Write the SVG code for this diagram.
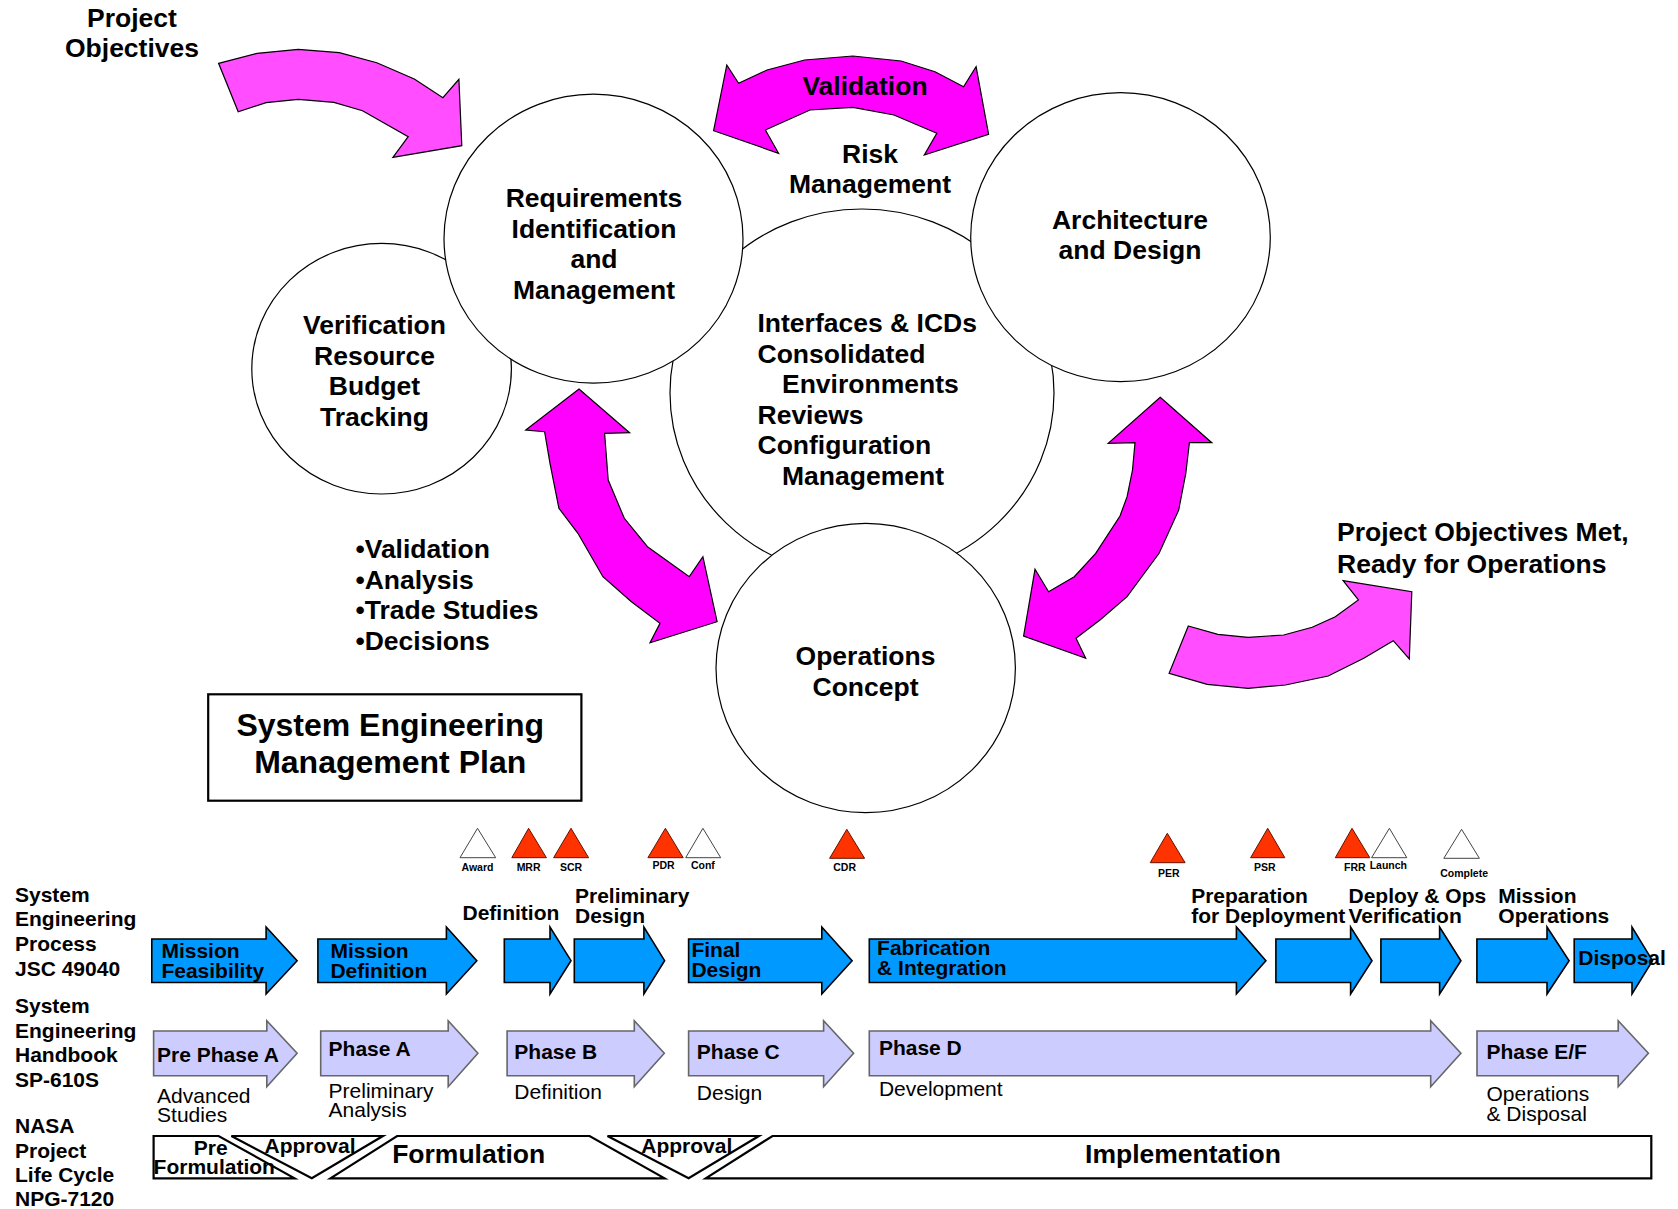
<svg xmlns="http://www.w3.org/2000/svg" width="1678" height="1209" viewBox="0 0 1678 1209">
<style>
text { font-family: "Liberation Sans", Arial, sans-serif; font-weight: bold; fill: #000; }
.big { font-size: 26.5px; }
.semp { font-size: 32px; }
.s21 { font-size: 21px; }
.reg { font-weight: normal; }
.ms { font-size: 10.5px; }
.mid { text-anchor: middle; }
.circ { fill: #fff; stroke: #000; stroke-width: 1.2; }
.mag { fill: #ff00ff; stroke: #000; stroke-width: 1.2; stroke-linejoin: miter; }
.lmag { fill: #ff4dff; stroke: #000; stroke-width: 1.2; }
.blue { fill: #0099ff; stroke: #000; stroke-width: 1.6; }
.lav { fill: #ccccff; stroke: #666; stroke-width: 1.6; }
.red { fill: #ff3300; stroke: #661100; stroke-width: 1; }
.wht { fill: #fff; stroke: #444; stroke-width: 1; }
.lc { fill: #fff; stroke: #000; stroke-width: 2.2; }
</style>
<rect width="1678" height="1209" fill="#fff"/>

<!-- circles -->
<g id="node-verification">
<ellipse class="circ" cx="381.6" cy="368.7" rx="129.8" ry="125.3"/>
<text class="big mid" x="374.5" y="334">Verification</text>
<text class="big mid" x="374.5" y="364.5">Resource</text>
<text class="big mid" x="374.5" y="395">Budget</text>
<text class="big mid" x="374.5" y="425.5">Tracking</text>
</g>
<g id="node-interfaces">
<ellipse class="circ" cx="862" cy="393" rx="192" ry="184"/>
<text class="big" x="757.5" y="332">Interfaces &amp; ICDs</text>
<text class="big" x="757.5" y="362.6">Consolidated</text>
<text class="big" x="782" y="393.2">Environments</text>
<text class="big" x="757.5" y="423.8">Reviews</text>
<text class="big" x="757.5" y="454.4">Configuration</text>
<text class="big" x="782" y="485">Management</text>
</g>
<g id="node-requirements">
<ellipse class="circ" cx="593.5" cy="238.7" rx="149.5" ry="144.5"/>
<text class="big mid" x="594" y="207">Requirements</text>
<text class="big mid" x="594" y="237.5">Identification</text>
<text class="big mid" x="594" y="268">and</text>
<text class="big mid" x="594" y="298.5">Management</text>
</g>
<g id="node-architecture">
<ellipse class="circ" cx="1120.5" cy="237.2" rx="149.8" ry="144.5"/>
<text class="big mid" x="1130" y="228.5">Architecture</text>
<text class="big mid" x="1130" y="259">and Design</text>
</g>
<g id="node-operations">
<ellipse class="circ" cx="865.7" cy="668" rx="149.7" ry="144.7"/>
<text class="big mid" x="865.5" y="665">Operations</text>
<text class="big mid" x="865.5" y="696">Concept</text>
</g>

<!-- free labels -->
<g id="node-project-objectives">
<text class="big mid" x="132" y="26.5">Project</text>
<text class="big mid" x="132" y="56.5">Objectives</text>
</g>
<g id="node-risk">
<text class="big mid" x="870" y="163.3">Risk</text>
<text class="big mid" x="870" y="193.3">Management</text>
</g>
<g id="node-bullets">
<text class="big" x="355.4" y="558.3">•Validation</text>
<text class="big" x="355.4" y="588.8">•Analysis</text>
<text class="big" x="355.4" y="619.3">•Trade Studies</text>
<text class="big" x="355.4" y="649.8">•Decisions</text>
</g>
<g id="node-objectives-met">
<text class="big" x="1337" y="540.7">Project Objectives Met,</text>
<text class="big" x="1337" y="572.7">Ready for Operations</text>
</g>
<g id="node-semp">
<rect x="208.2" y="694.3" width="373.2" height="106.4" fill="#fff" stroke="#000" stroke-width="2.2"/>
<text class="semp mid" x="390.2" y="736">System Engineering</text>
<text class="semp mid" x="390.2" y="773.3">Management Plan</text>
</g>

<!-- connectors -->
<g id="connectors">
<polygon id="arrow-project-objectives" class="lmag" points="218.6,63.3 257.1,53.3 298.2,49.3 339.3,52.7 376.8,62.7 414.3,79 442.9,97.7 458.9,79.3 461.8,145.7 392.9,157.3 408.2,136.7 362.5,110.7 333.9,102.3 298.2,99.3 266.1,102.7 238.2,111.7"/>
<polygon id="arrow-validation" class="mag" points="726.8,65 738.6,83.3 767.1,70 804.6,60 852.9,56 901.1,61 935,71.7 963.6,86.7 976.1,66.7 988.6,134.3 924.3,155 936.8,133.3 893.9,115 852.9,107.3 810,110 765.4,130 778.6,153.3 713.6,130.7"/>
<text class="big mid" x="865" y="95">Validation</text>
<polygon id="arrow-req-ops" class="mag" points="579,389 629.6,432.7 604.6,433.3 608.2,480 624.3,518.3 647.5,546.7 689.3,576.7 702.9,556.7 717.1,621.7 650,642.7 660,623.3 631.4,601.7 602.9,576.7 577.9,533.3 558.9,508.3 550,463.3 544.6,431.7 525.7,430"/>
<polygon id="arrow-arch-ops" class="mag" points="1160.2,397.3 1211.8,442.7 1189.4,442.7 1185.8,473.3 1178.7,510 1159.1,553.3 1127.1,596.7 1100,620 1076,638.3 1085.7,658.3 1023.6,636 1035,569.3 1048.6,591.7 1074.3,576.7 1095.7,553.3 1120,516 1127.1,496.7 1132.5,470 1135,442.7 1108.2,443.3"/>
<polygon id="arrow-objectives-met" class="lmag" points="1188.3,626 1217.9,634.3 1248.1,637.3 1283.7,635 1312.2,627.3 1335.3,616.7 1358.4,600 1343.1,580.7 1411.8,591.7 1409.3,659 1393.3,640.7 1363.8,658.3 1328.2,676 1285.5,685 1248.1,688.3 1207.2,684.3 1169.1,673.3"/>
</g>

<!-- timeline row labels -->
<g id="node-row-labels">
<text class="s21" x="15" y="901.7">System</text>
<text class="s21" x="15" y="926.2">Engineering</text>
<text class="s21" x="15" y="950.7">Process</text>
<text class="s21" x="15" y="975.5">JSC 49040</text>
<text class="s21" x="15" y="1012.7">System</text>
<text class="s21" x="15" y="1037.5">Engineering</text>
<text class="s21" x="15" y="1062.2">Handbook</text>
<text class="s21" x="15" y="1086.7">SP-610S</text>
<text class="s21" x="15" y="1133.3">NASA</text>
<text class="s21" x="15" y="1157.5">Project</text>
<text class="s21" x="15" y="1181.7">Life Cycle</text>
<text class="s21" x="15" y="1206">NPG-7120</text>
</g>

<!-- milestones -->
<g id="node-milestones">
<polygon class="wht" points="477.5,828.3 460,857.7 495.7,857.7"/>
<polygon class="red" points="528.6,828.3 511.8,857.7 546.4,857.7"/>
<polygon class="red" points="571,828.3 553.6,857.7 588.6,857.7"/>
<polygon class="red" points="665.4,828.3 647.9,857.7 683.2,857.7"/>
<polygon class="wht" points="702.9,828.3 685.7,857.7 720.7,857.7"/>
<polygon class="red" points="846.8,829.3 829.6,858.3 864.6,858.3"/>
<polygon class="red" points="1167.3,833.3 1150.2,862.7 1185.1,862.7"/>
<polygon class="red" points="1267.7,828.3 1250.6,857.7 1284.8,857.7"/>
<polygon class="red" points="1352,828.3 1335.3,857.7 1369.8,857.7"/>
<polygon class="wht" points="1389.4,828.3 1371.6,857.7 1406.8,857.7"/>
<polygon class="wht" points="1461.6,829.3 1443.8,858.3 1479.4,858.3"/>
<text class="ms mid" x="477.5" y="870.7">Award</text>
<text class="ms mid" x="528.6" y="870.7">MRR</text>
<text class="ms mid" x="571" y="870.7">SCR</text>
<text class="ms mid" x="663.6" y="869.3">PDR</text>
<text class="ms mid" x="702.9" y="869.3">Conf</text>
<text class="ms mid" x="844.6" y="870.7">CDR</text>
<text class="ms mid" x="1168.8" y="876.7">PER</text>
<text class="ms mid" x="1264.8" y="871">PSR</text>
<text class="ms mid" x="1354.9" y="871">FRR</text>
<text class="ms mid" x="1388.3" y="869.3">Launch</text>
<text class="ms mid" x="1464.1" y="877.3">Complete</text>
</g>

<!-- JSC 49040 process arrows -->
<g id="node-process">
<polygon class="blue" points="151.8,939 266.1,939 266.1,927 297.1,960.7 266.1,994 266.1,982.5 151.8,982.5"/>
<polygon class="blue" points="317.9,939 446.4,939 446.4,927 476.8,960.7 446.4,994 446.4,982.5 317.9,982.5"/>
<polygon class="blue" points="504.3,939 550,939 550,927 571,960.7 550,994 550,982.5 504.3,982.5"/>
<polygon class="blue" points="574.3,939 643.9,939 643.9,927 664.6,960.7 643.9,994 643.9,982.5 574.3,982.5"/>
<polygon class="blue" points="688.6,939 821.8,939 821.8,927 852.1,960.7 821.8,994 821.8,982.5 688.6,982.5"/>
<polygon class="blue" points="869.3,939 1236.4,939 1236.4,927 1265.9,960.7 1236.4,994 1236.4,982.5 869.3,982.5"/>
<polygon class="blue" points="1275.9,939 1350.6,939 1350.6,927 1372,960.7 1350.6,994 1350.6,982.5 1275.9,982.5"/>
<polygon class="blue" points="1380.9,939 1439.6,939 1439.6,927 1460.9,960.7 1439.6,994 1439.6,982.5 1380.9,982.5"/>
<polygon class="blue" points="1476.9,939 1547,939 1547,927 1569.1,960.7 1547,994 1547,982.5 1476.9,982.5"/>
<polygon class="blue" points="1574.2,939 1632,939 1632,927 1652.5,960.7 1632,994 1632,982.5 1574.2,982.5"/>
<text class="s21" x="161.4" y="958.3">Mission</text>
<text class="s21" x="161.4" y="978.3">Feasibility</text>
<text class="s21" x="330.4" y="958.3">Mission</text>
<text class="s21" x="330.4" y="978.3">Definition</text>
<text class="s21" x="462.5" y="920">Definition</text>
<text class="s21" x="575" y="903.3">Preliminary</text>
<text class="s21" x="575" y="923.3">Design</text>
<text class="s21" x="691.4" y="956.7">Final</text>
<text class="s21" x="691.4" y="976.7">Design</text>
<text class="s21" x="877.1" y="955">Fabrication</text>
<text class="s21" x="877.1" y="975">&amp; Integration</text>
<text class="s21" x="1191.2" y="902.7">Preparation</text>
<text class="s21" x="1191.2" y="922.7">for Deployment</text>
<text class="s21" x="1348.5" y="903.3">Deploy &amp; Ops</text>
<text class="s21" x="1348.5" y="923.3">Verification</text>
<text class="s21" x="1498.3" y="903.3">Mission</text>
<text class="s21" x="1498.3" y="923.3">Operations</text>
<text class="s21" x="1578.3" y="965">Disposal</text>
</g>

<!-- SP-610S phase arrows -->
<g id="node-phases">
<polygon class="lav" points="153.6,1031 266.8,1031 266.8,1020.7 297.1,1053.3 266.8,1086.7 266.8,1075.7 153.6,1075.7"/>
<polygon class="lav" points="320.7,1031 448.2,1031 448.2,1020.7 477.9,1053.3 448.2,1086.7 448.2,1075.7 320.7,1075.7"/>
<polygon class="lav" points="507.1,1031 634.3,1031 634.3,1020.7 664.3,1053.3 634.3,1086.7 634.3,1075.7 507.1,1075.7"/>
<polygon class="lav" points="688.6,1031 823.6,1031 823.6,1020.7 853.6,1053.3 823.6,1086.7 823.6,1075.7 688.6,1075.7"/>
<polygon class="lav" points="869.3,1031 1430.7,1031 1430.7,1020.7 1460.9,1053.3 1430.7,1086.7 1430.7,1075.7 869.3,1075.7"/>
<polygon class="lav" points="1477,1031 1618.2,1031 1618.2,1020.7 1648.4,1053.3 1618.2,1086.7 1618.2,1075.7 1477,1075.7"/>
<text class="s21" x="157.1" y="1061.7">Pre Phase A</text>
<text class="s21" x="328.6" y="1056">Phase A</text>
<text class="s21" x="514.3" y="1059.3">Phase B</text>
<text class="s21" x="696.8" y="1059.3">Phase C</text>
<text class="s21" x="878.9" y="1055.3">Phase D</text>
<text class="s21" x="1486.5" y="1059.3">Phase E/F</text>
<text class="s21 reg" x="157.1" y="1102.7">Advanced</text>
<text class="s21 reg" x="157.1" y="1121.7">Studies</text>
<text class="s21 reg" x="328.6" y="1097.7">Preliminary</text>
<text class="s21 reg" x="328.6" y="1116.7">Analysis</text>
<text class="s21 reg" x="514.3" y="1099.3">Definition</text>
<text class="s21 reg" x="696.8" y="1100">Design</text>
<text class="s21 reg" x="878.9" y="1096">Development</text>
<text class="s21 reg" x="1486.5" y="1101">Operations</text>
<text class="s21 reg" x="1486.5" y="1121">&amp; Disposal</text>
</g>

<!-- NPG-7120 life cycle -->
<g id="node-lifecycle">
<polygon class="lc" points="153.6,1136 218.6,1136 294.6,1178.3 153.6,1178.3"/>
<polygon class="lc" points="231.4,1136 382.9,1136 311.8,1178.3"/>
<polygon class="lc" points="397.1,1136 589.6,1136 664.6,1178.3 330.4,1178.3"/>
<polygon class="lc" points="607.5,1136 758.9,1136 688.6,1178.3"/>
<polygon class="lc" points="772.5,1136 1651.3,1136 1651.3,1178.3 705.7,1178.3"/>
<text class="s21 mid" x="210.7" y="1155">Pre</text>
<text class="s21" x="153.6" y="1174.3">Formulation</text>
<text class="s21 mid" x="310" y="1153.3">Approval</text>
<text class="big mid" x="468.7" y="1162.7">Formulation</text>
<text class="s21 mid" x="686.8" y="1153.3">Approval</text>
<text class="big mid" x="1183" y="1163.3">Implementation</text>
</g>
</svg>
